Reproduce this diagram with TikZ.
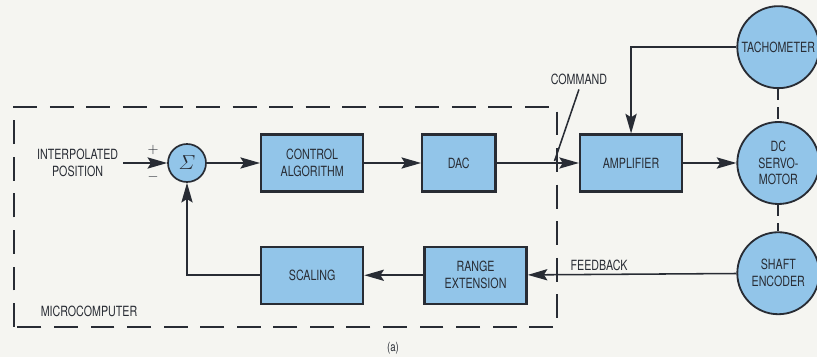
\documentclass[tikz,border=0pt]{standalone}
\usepackage{amsmath}
\usepackage{fontspec}
\setmainfont{TeX Gyre Heros}[FakeStretch=0.76]
\usetikzlibrary{arrows.meta, positioning, calc}
\definecolor{servoblue}{RGB}{146,197,233}
\definecolor{servoink}{RGB}{40,44,52}
\definecolor{servopaper}{RGB}{245,245,241}

\begin{document}
\begin{tikzpicture}[
  text=servoink,
  block/.style={draw=servoink, fill=servoblue, line width=1.6pt,
                minimum width=2.55cm, minimum height=1.42cm,
                align=center, inner sep=2pt},
  sumnode/.style={draw=servoink, fill=servoblue, circle, line width=1.2pt,
                  minimum size=0.95cm, inner sep=0pt},
  machine/.style={draw=servoink, fill=servoblue, circle, line width=1.3pt,
                  minimum size=2.05cm, inner sep=0pt, align=center},
  lbl/.style={align=center, text=servoink},
  arr/.style={-{Stealth[length=14pt,width=8pt,inset=2.5pt]}, line width=1.1pt, servoink},
  wire/.style={line width=1.1pt, servoink},
  mcbox/.style={draw=servoink, line width=1.5pt, dash pattern=on 17pt off 9pt},
  link/.style={line width=1.3pt, servoink, dash pattern=on 8pt off 5pt}
]
% page
\path[use as bounding box, fill=servopaper] (0,0) rectangle (20.425,-8.925);
% microcomputer boundary
\draw[mcbox] (0.35,-8.175) -- (0.35,-2.675) -- (13.925,-2.675)
  -- (13.925,-8.175) -- cycle;
\node[lbl] (micro) at (2.225,-7.775) {MICROCOMPUTER};
% forward path
\node[sumnode] (sum) at (4.675,-4.075) {\Large$\varSigma$};
\node[block, right=1.33cm of sum] (ctrl) {CONTROL\\ALGORITHM};
\node[block, minimum width=1.83cm, right=1.42cm of ctrl] (dac) {DAC};
\node[block, right=2.06cm of dac] (amp) {AMPLIFIER};
\node[machine, right=1.33cm of amp] (motor) {DC\\SERVO-\\MOTOR};
\node[machine, above=0.8cm of motor] (tacho) {TACHOMETER};
\node[machine, below=0.66cm of motor] (encoder) {SHAFT\\ENCODER};
% feedback path
\node[block, below=1.33cm of ctrl] (scaling) {SCALING};
\node[block, right=1.48cm of scaling] (range) {RANGE\\EXTENSION};
% labels
\node[lbl, left=1.1cm of sum] (ipos) {INTERPOLATED\\POSITION};
\node[lbl] (plus) at ($(sum.west)+(-0.35,0.33)$) {$+$};
\node[lbl] (minus) at ($(sum.west)+(-0.35,-0.35)$) {$-$};
\node[lbl, above=1.1cm of amp.north west] (cmd) {COMMAND};
\coordinate (cmdend) at ($(dac.east)+(1.45,0.05)$);
\node[lbl, anchor=south west] (fb) at ($(range.east)+(0.95,0)$) {FEEDBACK};
\node[lbl, font=\small] (caption) at (9.825,-8.7) {(a)};
% connectors
\draw[arr] (ipos) -- (sum);
\foreach \a/\b in {sum/ctrl,ctrl/dac,dac/amp,amp/motor,range/scaling,encoder/range}
  \draw[arr] (\a) -- (\b);
\draw[arr] (scaling.west) -| (sum.south);
\draw[arr] (tacho.west) -| (amp.north);
\draw[wire] (cmd.south) -- (cmdend);
\draw[link] (tacho) -- (motor);
\draw[link] (motor) -- (encoder);
\end{tikzpicture}
\end{document}
